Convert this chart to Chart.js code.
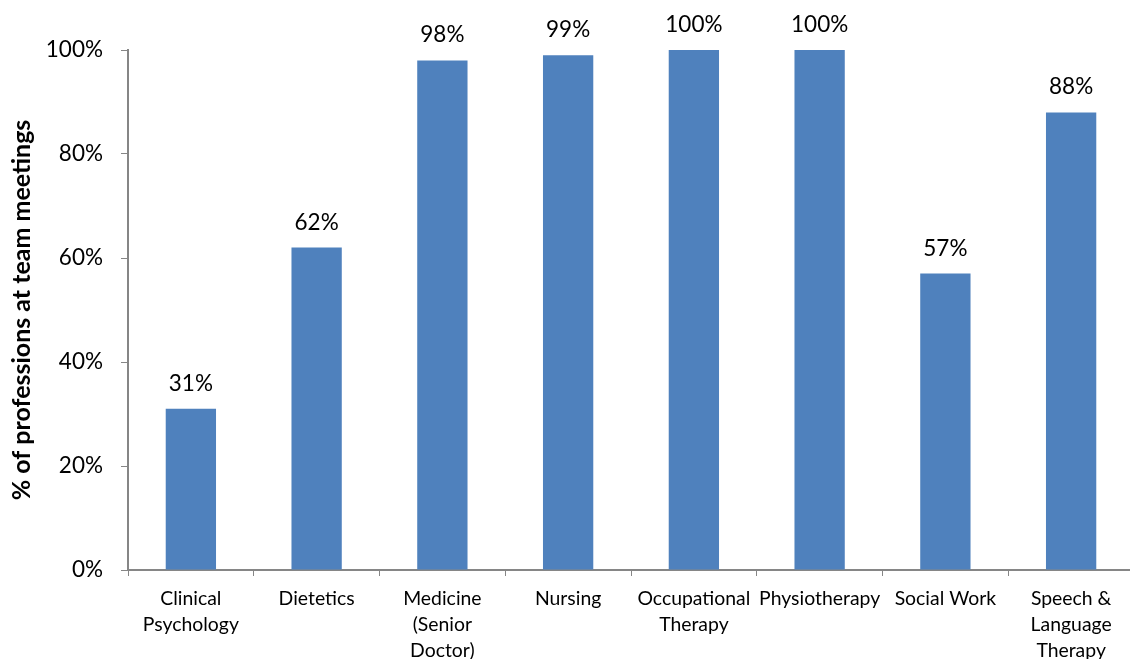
<!DOCTYPE html>
<html>
<head>
<meta charset="utf-8">
<script src="https://cdn.jsdelivr.net/npm/chart.js@4/dist/chart.umd.min.js"></script>
<style>
  html, body { margin: 0; padding: 0; background: #fff; overflow: hidden; }
</style>
</head>
<body>
<canvas id="teamChart" width="1134" height="659"></canvas>
<script>
var professions = [
    ["Clinical", "Psychology"],
    "Dietetics",
    ["Medicine", "(Senior", "Doctor)"],
    "Nursing",
    ["Occupational", "Therapy"],
    "Physiotherapy",
    "Social Work",
    ["Speech &", "Language", "Therapy"]
];
var attendance = [31, 62, 98, 99, 100, 100, 57, 88];
var yTicks = [0, 20, 40, 60, 80, 100];

var fontFamily = "Lato, 'Open Sans', sans-serif";

// percentage labels above each bar
var barLabels = {
    id: "barLabels",
    afterDatasetsDraw: function (chart) {
        var ctx = chart.ctx;
        var meta = chart.getDatasetMeta(0);
        ctx.save();
        ctx.font = "22.5px " + fontFamily;
        ctx.fillStyle = "#000";
        ctx.textAlign = "center";
        ctx.textBaseline = "alphabetic";
        meta.data.forEach(function (bar, i) {
            ctx.fillText(attendance[i] + "%", bar.x, bar.y - 18);
        });
        ctx.restore();
    }
};

var ctx = document.getElementById("teamChart");

var myChart = new Chart(ctx, {
    type: "bar",
    data: {
        labels: professions,
        datasets: [{
            data: attendance,
            backgroundColor: "#4F81BD",
            borderWidth: 0,
            barPercentage: 0.4,
            categoryPercentage: 1.0
        }]
    },
    plugins: [barLabels],
    options: {
        responsive: false,
        animation: false,
        layout: {
            padding: { top: 50, right: 0, left: 0, bottom: 0 }
        },
        plugins: {
            legend: { display: false },
            tooltip: { enabled: false }
        },
        scales: {
            x: {
                offset: true,
                grid: {
                    offset: true,
                    drawOnChartArea: false,
                    tickLength: 6,
                    color: "#868686"
                },
                border: { color: "#868686", width: 2 },
                ticks: {
                    color: "#000",
                    padding: 10,
                    maxRotation: 0,
                    autoSkip: false,
                    font: { family: fontFamily, size: 19.4, lineHeight: 1.34 }
                },
                afterFit: function (scale) { scale.height = 89; }
            },
            y: {
                min: 0,
                max: 100,
                afterBuildTicks: function (scale) {
                    scale.ticks = yTicks.map(function (v) { return { value: v }; });
                },
                grid: {
                    drawOnChartArea: false,
                    tickLength: 7,
                    color: "#868686"
                },
                border: { color: "#868686", width: 2 },
                ticks: {
                    color: "#000",
                    padding: 18,
                    font: { family: fontFamily, size: 22.5 },
                    callback: function (v) { return v + "%"; }
                },
                title: {
                    display: true,
                    text: "% of professions at team meetings",
                    color: "#000",
                    padding: { top: 7, bottom: 0 },
                    font: { family: fontFamily, size: 25, weight: "bold" }
                },
                afterFit: function (scale) { scale.width = 128; }
            }
        }
    }
});
</script>
</body>
</html>
